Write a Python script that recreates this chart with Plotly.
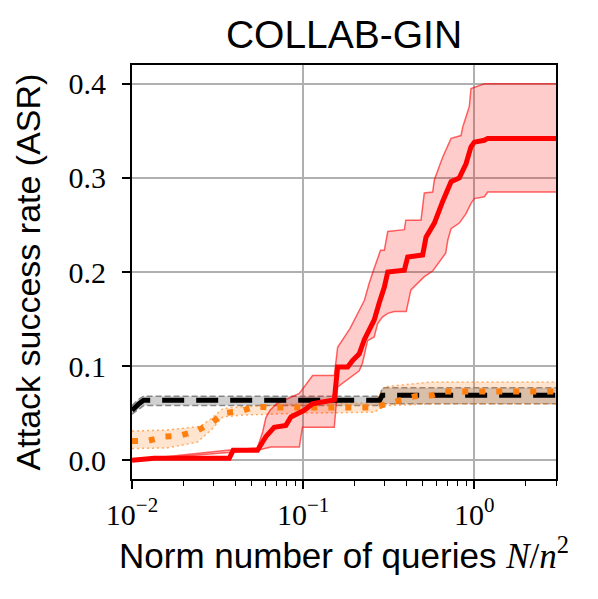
import plotly.graph_objects as go

# ---------------- data ----------------
red_x = [0.01, 0.012, 0.0135, 0.037, 0.039, 0.0541, 0.0605, 0.0677, 0.0792, 0.0848, 0.0948,
         0.1014, 0.1135, 0.152, 0.159, 0.182, 0.1946, 0.2126, 0.2275, 0.2432, 0.260, 0.278,
         0.298, 0.312, 0.390, 0.408, 0.499, 0.522, 0.584, 0.653, 0.731, 0.817, 0.894, 0.956,
         1.0, 1.144, 1.197, 3.0]
red_y = [0.0, 0.001, 0.002, 0.002, 0.0106, 0.0106, 0.025, 0.035, 0.037, 0.046, 0.051,
         0.053, 0.060, 0.064, 0.099, 0.099, 0.106, 0.113, 0.128, 0.138, 0.149, 0.167,
         0.184, 0.200, 0.202, 0.216, 0.218, 0.237, 0.252, 0.275, 0.296, 0.300, 0.315, 0.333,
         0.338, 0.340, 0.342, 0.342]

red_up_x = [0.01, 0.0361, 0.054, 0.058, 0.0605, 0.064, 0.070, 0.095, 0.1135, 0.152, 0.159, 0.188,
            0.228, 0.243, 0.260, 0.283, 0.298, 0.312, 0.390, 0.398, 0.488, 0.51, 0.571, 0.584, 0.653,
            0.731, 0.836, 0.855, 0.894, 0.935, 0.956, 1.144, 3.0]
red_up_y = [0.0, 0.0106, 0.013, 0.030, 0.045, 0.053, 0.060, 0.071, 0.090, 0.090, 0.120, 0.140,
            0.170, 0.188, 0.204, 0.223, 0.223, 0.243, 0.245, 0.255, 0.255, 0.284, 0.285, 0.298, 0.322,
            0.342, 0.345, 0.354, 0.365, 0.376, 0.395, 0.400, 0.400]

red_lo_x = [0.01, 0.054, 0.0648, 0.095, 0.099, 0.152, 0.159, 0.188, 0.2126, 0.222, 0.2378, 0.260,
            0.272, 0.290, 0.312, 0.340, 0.40, 0.426, 0.51, 0.571, 0.653, 0.68, 0.70, 0.731, 0.817,
            0.894, 0.956, 1.0, 1.144, 1.197, 3.0]
red_lo_y = [0.0, 0.0106, 0.014, 0.014, 0.035, 0.035, 0.078, 0.088, 0.095, 0.103, 0.127, 0.131,
            0.145, 0.152, 0.156, 0.158, 0.158, 0.181, 0.195, 0.201, 0.216, 0.220, 0.234, 0.246, 0.252,
            0.262, 0.273, 0.278, 0.280, 0.285, 0.285]

blk_x = [0.01, 0.0105, 0.011, 0.0117, 0.28, 0.29, 3.0]
blk_y = [0.053, 0.057, 0.060, 0.0638, 0.0638, 0.0691, 0.0691]
blk_up_y = [0.058, 0.062, 0.065, 0.068, 0.068, 0.077, 0.077]
blk_lo_y = [0.049, 0.052, 0.055, 0.058, 0.058, 0.060, 0.060]

org_x = [0.01, 0.0123, 0.0155, 0.019, 0.0237, 0.029, 0.0341, 0.0428, 0.0524, 0.0654,
         0.259, 0.309, 0.374, 0.45, 0.565, 0.668, 3.0]
org_y = [0.0205, 0.0205, 0.025, 0.026, 0.031, 0.039, 0.050, 0.052, 0.057, 0.056,
         0.056, 0.060, 0.0645, 0.068, 0.069, 0.073, 0.073]
org_up_x = [0.01, 0.016, 0.025, 0.029, 0.034, 0.045, 0.1, 0.26, 0.30, 0.55, 3.0]
org_up_y = [0.031, 0.032, 0.036, 0.044, 0.055, 0.057, 0.060, 0.061, 0.078, 0.083, 0.083]
org_lo_x = [0.01, 0.016, 0.024, 0.029, 0.034, 0.045, 0.1, 0.26, 0.30, 0.6, 3.0]
org_lo_y = [0.0124, 0.013, 0.019, 0.032, 0.046, 0.048, 0.050, 0.051, 0.058, 0.060, 0.060]

y_ticks = [0.0, 0.1, 0.2, 0.3, 0.4]
y_tick_text = ["0.0", "0.1", "0.2", "0.3", "0.4"]
x_ticks = [0.01, 0.1, 1]
x_tick_text = ["10<sup>−2</sup>", "10<sup>−1</sup>", "10<sup>0</sup>"]

RED = "#ff0000"
ORANGE = "#ff7f0e"

fig = go.Figure()

def band(xl, yl, xu, yu, edge_color, fill_color, dash):
    fig.add_trace(go.Scatter(x=xl, y=yl, mode="lines", line=dict(color=edge_color, width=1.5, dash=dash),
                             showlegend=False, hoverinfo="skip"))
    fig.add_trace(go.Scatter(x=xu, y=yu, mode="lines", line=dict(color=edge_color, width=1.5, dash=dash),
                             fill="tonexty", fillcolor=fill_color, showlegend=False, hoverinfo="skip"))

# gray band for black
band(blk_x, blk_lo_y, blk_x, blk_up_y, "rgba(110,110,110,0.8)", "rgba(170,170,170,0.55)", "6px,3px")
# orange band
band(org_lo_x, org_lo_y, org_up_x, org_up_y, "rgba(255,127,14,0.6)", "rgba(255,127,14,0.2)", "2px,3px")
# red band
band(red_lo_x, red_lo_y, red_up_x, red_up_y, "rgba(255,0,0,0.6)", "rgba(255,0,0,0.2)", "solid")

fig.add_trace(go.Scatter(x=blk_x, y=blk_y, mode="lines", line=dict(color="black", width=5, dash="22px,12px"),
                         showlegend=False))
fig.add_trace(go.Scatter(x=org_x, y=org_y, mode="lines", line=dict(color=ORANGE, width=6, dash="6px,11px"),
                         showlegend=False))
fig.add_trace(go.Scatter(x=red_x, y=red_y, mode="lines", line=dict(color=RED, width=5),
                         showlegend=False))

sans = "Liberation Sans, Arial, sans-serif"
serif = "Liberation Serif, serif"

fig.update_layout(
    width=598, height=599,
    margin=dict(l=132, r=42, t=65, b=120),
    paper_bgcolor="white", plot_bgcolor="white",
    title=dict(text="COLLAB-GIN", x=0.5, xref="paper", xanchor="center",
               y=1 - 34 / 599, yref="container", yanchor="middle",
               font=dict(family=sans, size=39, color="black")),
)

fig.update_xaxes(
    type="log", range=[-2, 0.477], automargin=False,
    tickmode="array", tickvals=x_ticks, ticktext=x_tick_text,
    tickfont=dict(family=serif, size=30, color="black"),
    ticks="outside", ticklen=8, tickwidth=1.5, tickcolor="black",
    showline=True, linecolor="black", linewidth=1.8, mirror=True,
    showgrid=True, gridcolor="#b0b0b0", gridwidth=1.5,
    zeroline=False,
    minor=dict(ticks="outside", ticklen=5, tickwidth=1.2, tickcolor="black", dtick="D1", showgrid=False),
    title=dict(text="Norm number of queries <span style='font-family:Liberation Serif'><i>N</i>/<i>n</i><sup>2</sup></span>",
               font=dict(family=sans, size=35, color="black"), standoff=4),
)
fig.update_yaxes(
    range=[-0.02, 0.42], automargin=False,
    tickmode="array", tickvals=y_ticks, ticktext=y_tick_text,
    tickfont=dict(family=serif, size=30, color="black"),
    ticks="outside", ticklen=8, tickwidth=1.5, tickcolor="black",
    ticklabelstandoff=10,
    showline=True, linecolor="black", linewidth=1.8, mirror=True,
    showgrid=True, gridcolor="#b0b0b0", gridwidth=1.5,
    zeroline=False,
    title=dict(text="Attack success rate (ASR)", font=dict(family=sans, size=34, color="black"), standoff=18),
)

fig.write_html("out.html", config={"displayModeBar": False},
               post_script="document.body.style.margin='0px';")
